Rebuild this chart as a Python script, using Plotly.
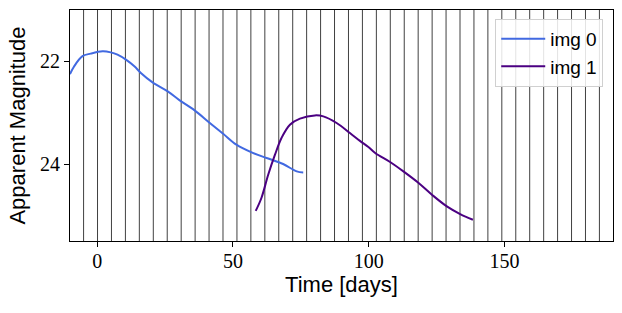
import plotly.graph_objects as go

# img 0 light curve (days, apparent magnitude)
img0_time = [-10.0, -8.5, -5.4, -2.4, 2.0, 5.0, 7.5, 10.6, 13.7, 16.1, 20.4, 26.0, 30.4,
             35.9, 41.5, 46.4, 51.3, 56.9, 62.4, 68.5, 73.5, 75.9]
img0_mag = [22.25, 22.10, 21.90, 21.85, 21.805, 21.825, 21.87, 21.967, 22.097, 22.226, 22.409,
            22.585, 22.76, 22.955, 23.20, 23.41, 23.624, 23.774, 23.883, 24.0, 24.144, 24.164]

# img 1 light curve
img1_time = [58.4, 60.5, 63.0, 65.5, 67.9, 71.0, 74.7, 80.2, 83.3, 88.2, 93.1, 96.8, 99.9,
             102.4, 107.9, 112.8, 118.4, 123.3, 128.8, 133.7, 138.4]
img1_mag = [24.914, 24.663, 24.209, 23.819, 23.493, 23.234, 23.117, 23.053, 23.072, 23.201,
            23.396, 23.55, 23.67, 23.786, 23.961, 24.144, 24.370, 24.598, 24.826, 24.975, 25.086]

# observation epochs (vertical lines)
epochs = [-5.0, 0.14, 5.27, 10.41, 15.54, 20.68, 25.81, 30.95, 36.08, 41.22, 46.35, 51.49,
          56.62, 61.76, 66.89, 72.03, 77.16, 82.30, 87.43, 92.57, 97.70, 102.84, 107.97,
          113.11, 118.24, 123.38, 128.51, 133.65, 138.78, 143.92, 149.05, 154.19, 159.32,
          164.46, 169.59, 174.73, 179.86, 185.0]

x_ticks = [0, 50, 100, 150]
y_ticks = [22, 24]

fig = go.Figure()
fig.add_trace(go.Scatter(x=img0_time, y=img0_mag, mode="lines", name="img 0",
                         line=dict(color="#4169E1", width=2, shape="spline")))
fig.add_trace(go.Scatter(x=img1_time, y=img1_mag, mode="lines", name="img 1",
                         line=dict(color="#4B0082", width=2, shape="spline")))

for t in epochs:
    fig.add_shape(type="line", xref="x", yref="paper", x0=t, x1=t, y0=0, y1=1,
                  line=dict(color="rgba(0,0,0,0.75)", width=1), layer="below")

serif = "Liberation Serif, DejaVu Serif, serif"
sans = "Liberation Sans, DejaVu Sans, sans-serif"

fig.update_layout(
    width=622, height=313,
    margin=dict(l=70, r=9, t=10, b=72, autoexpand=False),
    paper_bgcolor="white", plot_bgcolor="white",
    showlegend=True,
    legend=dict(x=0.982, y=0.962, xanchor="right", yanchor="top",
                bgcolor="rgba(255,255,255,0.85)", bordercolor="#d0d0d0", borderwidth=1,
                font=dict(family=sans, size=19, color="black"),
                itemwidth=44, tracegroupgap=4),
    xaxis=dict(range=[-10, 190], tickvals=x_ticks, ticks="outside", ticklen=5,
               tickwidth=1, tickcolor="black", showgrid=False, zeroline=False,
               showline=True, linecolor="black", linewidth=1.2, mirror=True,
               automargin=False, ticklabelstandoff=-3,
               tickfont=dict(family=serif, size=20, color="black"),
               title=dict(text="Time [days]", font=dict(family=sans, size=22, color="black"),
                          standoff=4)),
    yaxis=dict(range=[25.5, 21.0], tickvals=y_ticks, ticks="outside", ticklen=5,
               tickwidth=1, tickcolor="black", showgrid=False, zeroline=False,
               showline=True, linecolor="black", linewidth=1.2, mirror=True,
               automargin=False,
               tickfont=dict(family=serif, size=20, color="black"),
               title=dict(text="Apparent Magnitude", font=dict(family=sans, size=22, color="black"),
                          standoff=8)),
)

fig.write_html("out.html", config={"displayModeBar": False},
               post_script="document.body.style.margin='0';document.body.style.overflow='hidden';")
